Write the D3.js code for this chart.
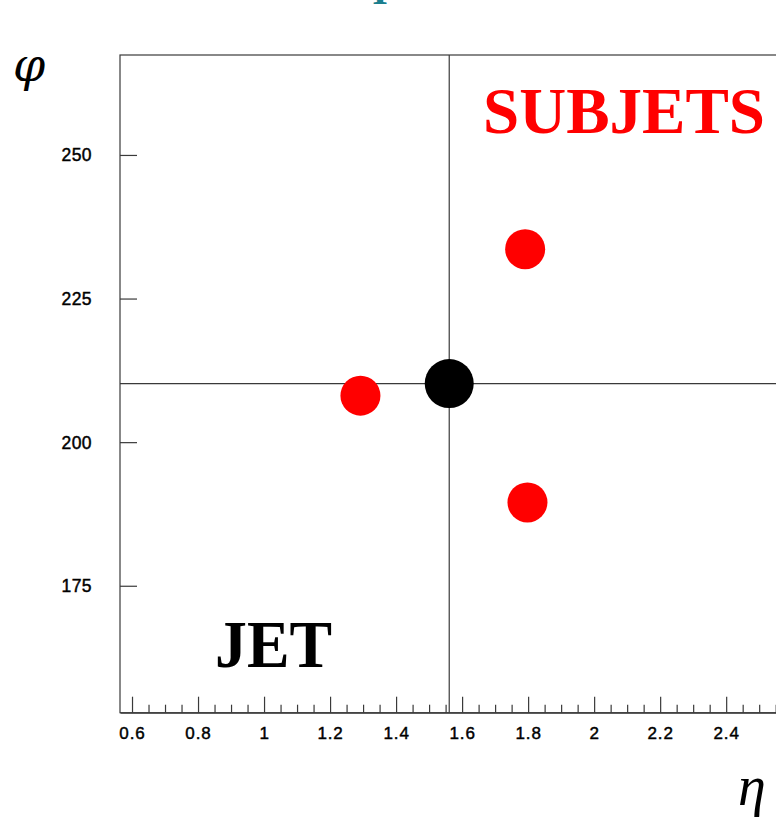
<!DOCTYPE html>
<html><head><meta charset="utf-8">
<script src="https://cdn.jsdelivr.net/npm/d3@7"></script>
<style>html,body{margin:0;padding:0;background:#fff;overflow:hidden}</style>
</head><body>
<svg id="c" width="776" height="817"></svg>
<script>
// Data
const jet = [{eta: 1.561, phi: 210.2}];
const subjetsEta = [1.292, 1.791, 1.798];
const subjetsPhi = [208.1, 233.6, 189.5];
const xDomain = [0.5636, 2.557];
const yDomain = [152.9, 267.4];
const xMajorTicks = [0.6, 0.8, 1.0, 1.2, 1.4, 1.6, 1.8, 2.0, 2.2, 2.4];
const xMinorTicks = [0.65,0.7,0.75,0.85,0.9,0.95,1.05,1.1,1.15,1.25,1.3,1.35,1.45,1.5,1.55,1.65,1.7,1.75,1.85,1.9,1.95,2.05,2.1,2.15,2.25,2.3,2.35,2.45,2.5,2.55];
const yTicks = [175, 200, 225, 250];

const svg = d3.select("#c");
const L = 120, R = 778, T = 55, B = 712.7;
const x = d3.scaleLinear().domain(xDomain).range([L, R]);
const y = d3.scaleLinear().domain(yDomain).range([B, T]);
const lineCol = "#3a3a3a";

// teal clipped title fragment
svg.append("text").attr("x", 380).attr("y", 4).attr("text-anchor", "middle")
  .attr("font-family", "Liberation Serif").attr("font-weight", "bold").attr("font-size", 40)
  .attr("fill", "#1b7f8e").text("I");

// frame
svg.append("rect").attr("x", L).attr("y", T).attr("width", R - L).attr("height", B - T)
  .attr("fill", "none").attr("stroke", lineCol).attr("stroke-width", 1.2);

// crosshair
svg.append("line").attr("x1", x(jet[0].eta)).attr("x2", x(jet[0].eta)).attr("y1", T).attr("y2", B)
  .attr("stroke", lineCol).attr("stroke-width", 1.2);
svg.append("line").attr("x1", L).attr("x2", R).attr("y1", y(jet[0].phi)).attr("y2", y(jet[0].phi))
  .attr("stroke", lineCol).attr("stroke-width", 1.2);

// x axis
const xAxis = d3.axisBottom(x).tickValues(xMajorTicks).tickSizeInner(-16).tickSizeOuter(0)
  .tickPadding(0).tickFormat(d3.format("~g"));
const gx = svg.append("g").attr("transform", `translate(0,${B})`).call(xAxis);
gx.select(".domain").attr("stroke", lineCol).attr("stroke-width", 1.2);
gx.selectAll(".tick line").attr("stroke", lineCol).attr("stroke-width", 1.2);
gx.selectAll(".tick text").attr("dy", 0).attr("y", 26.5)
  .attr("font-family", "Liberation Sans, Arial, sans-serif").attr("font-size", 17)
  .attr("letter-spacing", 0.9).attr("fill", "#000").attr("stroke", "#000").attr("stroke-width", 0.45);
const xMinor = d3.axisBottom(x).tickValues(xMinorTicks).tickSizeInner(-8).tickSizeOuter(0).tickFormat("");
const gxm = svg.append("g").attr("transform", `translate(0,${B})`).call(xMinor);
gxm.select(".domain").remove();
gxm.selectAll(".tick line").attr("stroke", lineCol).attr("stroke-width", 1.2);

// y axis
const yAxis = d3.axisLeft(y).tickValues(yTicks).tickSizeInner(-17).tickSizeOuter(0).tickPadding(28);
const gy = svg.append("g").attr("transform", `translate(${L},0)`).call(yAxis);
gy.select(".domain").remove();
gy.selectAll(".tick line").attr("stroke", lineCol).attr("stroke-width", 1.2);
gy.selectAll(".tick text").attr("x", -28).attr("dy", "0.34em")
  .attr("font-family", "Liberation Sans, Arial, sans-serif").attr("font-size", 17.5)
  .attr("letter-spacing", 0.4).attr("fill", "#000").attr("stroke", "#000").attr("stroke-width", 0.45);

// points
svg.append("g").selectAll("circle.sub").data(subjetsEta.map((e, i) => ({eta: e, phi: subjetsPhi[i]})))
  .join("circle").attr("class", "sub")
  .attr("cx", d => x(d.eta)).attr("cy", d => y(d.phi)).attr("r", 20).attr("fill", "#ff0000");
svg.append("g").selectAll("circle.jet").data(jet).join("circle").attr("class", "jet")
  .attr("cx", d => x(d.eta)).attr("cy", d => y(d.phi)).attr("r", 24.5).attr("fill", "#000");

// labels
svg.append("text").attr("x", 483).attr("y", 133).attr("font-family", "Liberation Serif, Times New Roman, serif")
  .attr("font-weight", "bold").attr("font-size", 66).attr("fill", "#ff0000")
  .attr("textLength", 282).attr("lengthAdjust", "spacingAndGlyphs").text("SUBJETS");
svg.append("text").attr("x", 215).attr("y", 667).attr("font-family", "Liberation Serif, Times New Roman, serif")
  .attr("font-weight", "bold").attr("font-size", 68).attr("fill", "#000")
  .attr("textLength", 117).attr("lengthAdjust", "spacingAndGlyphs").text("JET");

// axis titles
svg.append("text").attr("x", 13).attr("y", 81).attr("font-family", "DejaVu Serif, serif")
  .attr("font-style", "italic").attr("font-size", 46).attr("fill", "#000").text("φ");
svg.append("text").attr("x", 738).attr("y", 805).attr("font-family", "Liberation Serif, serif")
  .attr("font-style", "italic").attr("font-size", 56).attr("fill", "#000").text("η");
</script>
</body></html>
